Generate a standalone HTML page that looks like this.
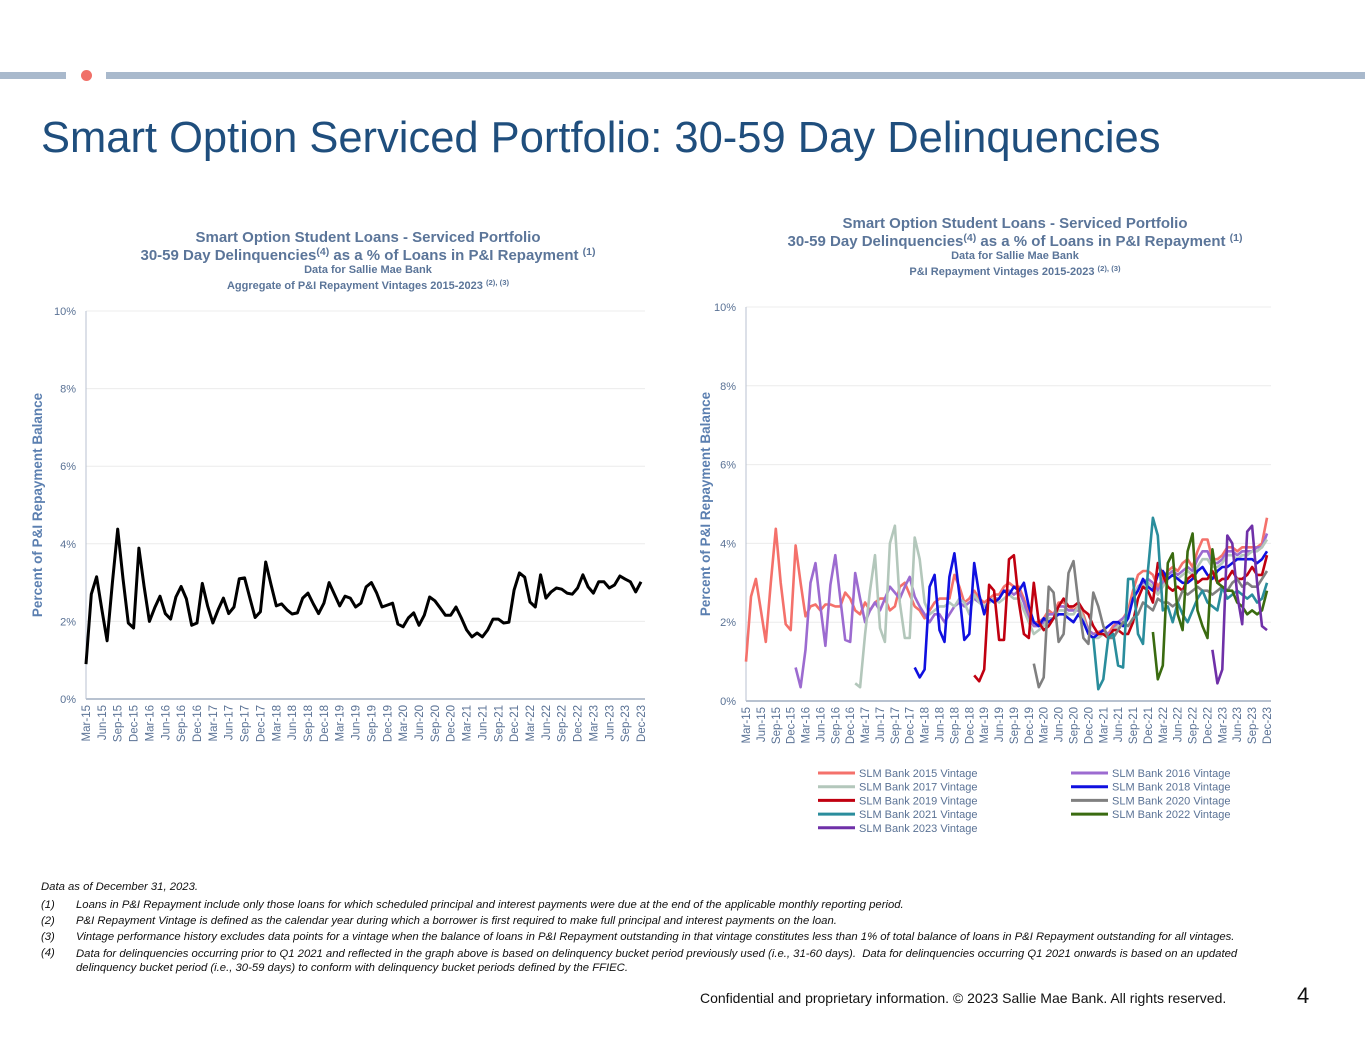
<!DOCTYPE html>
<html><head><meta charset="utf-8"><style>
html,body{margin:0;padding:0;width:1365px;height:1055px;background:#fff;overflow:hidden;font-family:"Liberation Sans",sans-serif;}
.fn{position:absolute;font-size:11.3px;font-style:italic;color:#111;white-space:nowrap;}
</style></head><body>
<div style="position:relative;width:1365px;height:1055px;">
<div style="position:absolute;left:0;top:72px;width:66px;height:7px;background:#a9b9cc;"></div>
<div style="position:absolute;left:81px;top:70px;width:11px;height:11px;border-radius:50%;background:#f07068;"></div>
<div style="position:absolute;left:106px;top:72px;width:1259px;height:7px;background:#a9b9cc;"></div>
<div style="position:absolute;left:41px;top:114px;font-size:43.5px;color:#1f4e7d;white-space:nowrap;">Smart Option Serviced Portfolio: 30-59 Day Delinquencies</div>

<svg id="chart" width="1365" height="1055" style="position:absolute;left:0;top:0;" font-family="Liberation Sans, sans-serif"></svg>

<div class="fn" style="left:41px;top:881px;">Data as of December 31, 2023.</div>
<div class="fn" style="left:41px;top:899px;">(1)</div>
<div class="fn" style="left:76px;top:899px;">Loans in P&amp;I Repayment include only those loans for which scheduled principal and interest payments were due at the end of the applicable monthly reporting period.</div>
<div class="fn" style="left:41px;top:915px;">(2)</div>
<div class="fn" style="left:76px;top:915px;">P&amp;I Repayment Vintage is defined as the calendar year during which a borrower is first required to make full principal and interest payments on the loan.</div>
<div class="fn" style="left:41px;top:931px;">(3)</div>
<div class="fn" style="left:76px;top:931px;">Vintage performance history excludes data points for a vintage when the balance of loans in P&amp;I Repayment outstanding in that vintage constitutes less than 1% of total balance of loans in P&amp;I Repayment outstanding for all vintages.</div>
<div class="fn" style="left:41px;top:947px;">(4)</div>
<div class="fn" style="left:76px;top:947px;line-height:14px;">Data for delinquencies occurring prior to Q1 2021 and reflected in the graph above is based on delinquency bucket period previously used (i.e., 31-60 days).&nbsp; Data for delinquencies occurring Q1 2021 onwards is based on an updated<br>delinquency bucket period (i.e., 30-59 days) to conform with delinquency bucket periods defined by the FFIEC.</div>
<div style="position:absolute;left:700px;top:990px;font-size:14px;color:#111;white-space:nowrap;">Confidential and proprietary information. © 2023 Sallie Mae Bank. All rights reserved.</div>
<div style="position:absolute;left:1297px;top:983px;font-size:22px;color:#111;">4</div>
</div>
<script>
const monthLabels = ["Mar-15","Jun-15","Sep-15","Dec-15","Mar-16","Jun-16","Sep-16","Dec-16","Mar-17","Jun-17","Sep-17","Dec-17","Mar-18","Jun-18","Sep-18","Dec-18","Mar-19","Jun-19","Sep-19","Dec-19","Mar-20","Jun-20","Sep-20","Dec-20","Mar-21","Jun-21","Sep-21","Dec-21","Mar-22","Jun-22","Sep-22","Dec-22","Mar-23","Jun-23","Sep-23","Dec-23"];
const yTicks = [0,2,4,6,8,10];
const aggregate = [0.9,2.7,3.15,2.3,1.5,3.0,4.38,3.1,1.96,1.83,
3.89,2.9,2.0,2.35,2.65,2.2,2.06,2.63,2.9,2.58,1.9,1.96,
2.98,2.4,1.96,2.3,2.6,2.2,2.37,3.1,3.12,2.6,2.1,2.25,
3.53,2.95,2.4,2.45,2.3,2.19,2.22,2.6,2.73,2.45,2.2,2.47,
3.0,2.7,2.4,2.65,2.6,2.37,2.47,2.89,3.0,2.73,2.37,2.42,
2.47,1.93,1.86,2.09,2.22,1.9,2.16,2.63,2.53,2.35,2.16,2.16,
2.37,2.09,1.78,1.6,1.7,1.6,1.78,2.06,2.06,1.96,1.98,2.81,
3.25,3.14,2.5,2.37,3.2,2.6,2.76,2.86,2.83,2.73,2.7,2.86,
3.2,2.89,2.73,3.02,3.02,2.86,2.94,3.17,3.09,3.02,2.76,3.02];
const vintageNames = ["SLM Bank 2015 Vintage","SLM Bank 2016 Vintage","SLM Bank 2017 Vintage","SLM Bank 2018 Vintage","SLM Bank 2019 Vintage","SLM Bank 2020 Vintage","SLM Bank 2021 Vintage","SLM Bank 2022 Vintage","SLM Bank 2023 Vintage"];
const vintageStart = [0,10,22,34,46,58,70,82,94];
const v2015 = [1.0,2.65,3.1,2.3,1.5,3.0,4.37,3.0,1.95,1.8,
3.95,3.0,2.15,2.4,2.45,2.3,2.45,2.45,2.4,2.4,2.75,2.6,
2.3,2.2,2.5,2.3,2.5,2.6,2.6,2.3,2.4,2.9,3.0,2.7,
2.4,2.3,2.1,2.3,2.5,2.6,2.6,2.6,3.2,2.9,2.5,2.6,
2.8,2.6,2.5,2.6,2.7,2.7,2.9,3.0,2.9,2.9,2.6,2.2,
2.0,2.0,2.1,2.3,2.2,2.5,2.5,2.4,2.3,2.4,2.2,1.8,
1.7,1.75,1.8,1.7,1.9,2.0,2.1,2.3,2.8,3.2,3.3,3.3,
3.2,2.9,3.1,3.3,3.4,3.3,3.5,3.6,3.4,3.8,4.1,4.1,
3.6,3.6,3.7,3.9,3.9,3.8,3.9,3.9,3.9,3.9,4.0,4.65];
const v2016 = [0.85,0.35,1.3,3.0,3.5,2.4,1.4,2.95,3.7,2.6,1.55,1.5,
3.25,2.6,2.0,2.3,2.5,2.3,2.6,2.9,2.75,2.6,2.9,3.15,
2.65,2.4,2.2,2.0,2.2,2.2,2.0,2.2,2.4,2.5,2.4,2.5,
2.6,2.5,2.4,2.5,2.6,2.6,2.8,2.8,2.7,2.8,2.5,2.1,
1.9,1.9,2.0,2.2,2.2,2.4,2.4,2.3,2.3,2.3,2.1,1.8,
1.7,1.7,1.8,1.7,1.8,2.0,2.1,2.2,2.6,2.9,3.0,3.1,
3.0,2.8,3.0,3.2,3.3,3.2,3.3,3.4,3.3,3.6,3.8,3.8,
3.5,3.5,3.6,3.8,3.8,3.7,3.8,3.8,3.8,3.9,3.9,4.25];
const v2017 = [0.45,0.35,1.7,2.8,3.7,1.85,1.5,4.0,4.45,2.5,1.6,1.6,
4.15,3.6,2.5,2.2,2.3,2.4,2.4,2.5,2.4,2.6,2.5,2.2,
2.7,2.5,2.4,2.5,2.6,2.5,2.6,2.7,2.6,2.6,2.3,2.0,
1.7,1.8,1.9,2.1,2.1,2.3,2.3,2.2,2.2,2.4,2.1,1.7,
1.6,1.6,1.7,1.6,1.8,1.9,2.0,2.2,2.6,2.9,2.9,3.0,
2.9,2.7,2.9,3.1,3.2,3.1,3.2,3.3,3.2,3.4,3.6,3.6,
3.4,3.4,3.5,3.7,3.7,3.6,3.7,3.7,3.8,3.8,3.9,4.1];
const v2018 = [0.85,0.6,0.8,2.9,3.2,1.8,1.5,3.15,3.75,2.7,1.55,1.7,
3.5,2.7,2.2,2.6,2.5,2.6,2.8,2.7,2.9,2.8,3.0,2.4,
2.0,1.9,2.1,2.0,2.1,2.2,2.2,2.1,2.0,2.2,2.0,1.7,
1.6,1.7,1.8,1.9,2.0,2.0,1.9,2.1,2.6,2.8,3.1,2.9,
2.8,3.2,3.3,3.1,3.2,3.1,3.0,3.0,3.1,3.3,3.4,3.2,
3.1,3.3,3.4,3.4,3.5,3.6,3.6,3.6,3.6,3.5,3.6,3.8];
const v2019 = [0.65,0.5,0.8,2.95,2.8,1.55,1.55,3.6,3.7,2.5,1.7,1.6,
3.0,2.0,1.8,1.9,2.1,2.4,2.6,2.4,2.4,2.5,2.3,2.2,
1.9,1.7,1.7,1.6,1.8,1.8,1.7,1.7,2.0,2.6,2.9,2.8,
2.5,3.5,3.2,2.9,2.8,2.9,2.8,3.1,3.2,3.0,3.1,3.1,
3.3,3.0,3.1,3.1,3.3,3.1,3.1,3.2,3.4,3.2,3.2,3.7];
const v2020 = [0.95,0.35,0.6,2.9,2.75,1.5,1.7,3.25,3.55,2.5,1.6,1.45,
2.75,2.4,1.9,1.6,1.6,1.8,2.0,1.9,2.1,2.2,2.5,2.4,
2.3,2.6,2.5,2.5,2.4,2.5,2.8,2.7,2.8,2.9,2.8,2.8,
2.7,2.8,2.9,2.8,3.0,3.1,2.9,3.0,2.9,2.9,3.1,3.3];
const v2021 = [1.6,0.3,0.55,1.6,1.7,0.9,0.85,3.1,3.1,1.7,1.45,3.3,
4.65,4.2,2.3,2.4,2.0,2.5,2.2,2.0,2.3,2.6,2.8,2.5,
2.4,2.3,2.9,2.6,2.7,2.8,2.7,2.6,2.7,2.5,2.6,3.0];
const v2022 = [1.75,0.55,0.9,3.5,3.75,2.2,1.8,3.8,4.25,2.3,1.9,1.6,
3.85,3.0,2.9,2.8,2.8,2.5,2.4,2.2,2.3,2.2,2.3,2.8];
const v2023 = [1.3,0.45,0.8,4.2,4.0,2.7,1.95,4.3,4.45,3.0,1.9,1.8];
const vintageSeries = [v2015,v2016,v2017,v2018,v2019,v2020,v2021,v2022,v2023];
const vintageColors = ["#f4716b","#9c6bd0","#b3c7bb","#1010e0","#c00010","#808080","#2a8d9c","#3a6b10","#6f30a8"];

const NS="http://www.w3.org/2000/svg";
const svg=document.getElementById('chart');
function mk(tag,attrs,parent){const e=document.createElementNS(NS,tag);for(const k in attrs)e.setAttribute(k,attrs[k]);(parent||svg).appendChild(e);return e;}
const nMonths=aggregate.length;

function drawPanel(p){
  const g=mk('g',{});
  
  
  const xS=i=>p.x0+(p.x1-p.x0)*i/(nMonths-1);
  const yS=v=>p.y0-(p.y0-p.y1)*v/10;
  yTicks.forEach(t=>{
    if(t>0){const l=mk('line',{x1:p.x0,x2:p.x1+4,y1:yS(t),y2:yS(t),stroke:'#ececec','stroke-width':1},g);
    
    }
    const tx=mk('text',{x:p.x0-10,y:yS(t)+4,'text-anchor':'end','font-size':11,fill:'#5a7295'},g);
    tx.textContent=t+'%';
    
    
  });
  const ax=mk('line',{x1:p.x0,x2:p.x0,y1:p.y1,y2:p.y0,stroke:'#b8c2d0','stroke-width':1},g);
  
  
  const bx=mk('line',{x1:p.x0,x2:p.x1+4,y1:p.y0,y2:p.y0,stroke:'#b8c2d0','stroke-width':2},g);
  
  
  monthLabels.forEach((m,k)=>{
    const x=xS(k*3)+4;
    const t=mk('text',{x:0,y:0,transform:`translate(${x},${p.y0+6}) rotate(-90)`,'text-anchor':'end','font-size':11.5,fill:'#5a7295'},g);
    t.textContent=m;
    
    
  });
  const yl=mk('text',{x:0,y:0,transform:`translate(${p.ylx},${(p.y0+p.y1)/2}) rotate(-90)`,'text-anchor':'middle','font-size':13.5,'font-weight':'bold',fill:'#5b7fb0'},g);
  yl.textContent='Percent of P&I Repayment  Balance';
  
  
  return {g,xS,yS};
}
function title(lines,cx){
  lines.forEach(L=>{
    const t=mk('text',{x:cx,y:L.y,'text-anchor':'middle','font-size':L.s,'font-weight':'bold',fill:'#5b7599'});
    
    
    const a=mk('tspan',{},t);a.textContent=L.a;
    if(L.sup){const s=mk('tspan',{'font-size':L.s*0.7,dy:-L.s*0.35},t);s.textContent=L.sup;}
    if(L.b){const b=mk('tspan',{dy:L.sup?L.s*0.35:0},t);b.textContent=L.b;}
    if(L.sup2){const s=mk('tspan',{'font-size':L.s*0.7,dy:-L.s*0.35},t);s.textContent=L.sup2;}
  });
}
title([
 {y:242,s:15,a:'Smart Option Student Loans - Serviced Portfolio',n:'left-chart-title'},
 {y:260,s:15,a:'30-59 Day Delinquencies',sup:'(4)',b:' as a % of Loans in P&I Repayment ',sup2:'(1)',n:'left-chart-subtitle'},
 {y:273,s:11,a:'Data for Sallie Mae Bank',n:'left-chart-data-note'},
 {y:289,s:11,a:'Aggregate of P&I Repayment Vintages 2015-2023 ',sup:'(2), (3)',n:'left-chart-vintage-note'}
],368);
title([
 {y:228,s:15,a:'Smart Option Student Loans - Serviced Portfolio',n:'right-chart-title'},
 {y:246,s:15,a:'30-59  Day Delinquencies',sup:'(4)',b:' as a % of Loans in P&I Repayment ',sup2:'(1)',n:'right-chart-subtitle'},
 {y:259,s:11,a:'Data for Sallie Mae Bank',n:'right-chart-data-note'},
 {y:275,s:11,a:'P&I Repayment Vintages 2015-2023 ',sup:'(2), (3)',n:'right-chart-vintage-note'}
],1015);

const L=drawPanel({name:'left-chart',x0:86,x1:641,y0:699,y1:311,ylx:42});
let d=aggregate.map((v,i)=>(i?'L':'M')+L.xS(i).toFixed(1)+','+L.yS(v).toFixed(1)).join(' ');
const lp=mk('path',{d,fill:'none',stroke:'#000','stroke-width':3,'stroke-linejoin':'round'},L.g);



const R=drawPanel({name:'right-chart',x0:746,x1:1267,y0:701,y1:307,ylx:710});
vintageSeries.forEach((s,k)=>{
  const dd=s.map((v,j)=>(j?'L':'M')+R.xS(vintageStart[k]+j).toFixed(1)+','+R.yS(v).toFixed(1)).join(' ');
  const p=mk('path',{d:dd,fill:'none',stroke:vintageColors[k],'stroke-width':2.6,'stroke-linejoin':'round'},R.g);
  
  
});
vintageNames.forEach((n,k)=>{
  const col=k%2, row=Math.floor(k/2);
  const x=col?1071:818, y=773+row*13.7;
  const lg=mk('g',{},R.g);
  
  
  mk('line',{x1:x,x2:x+37,y1:y,y2:y,stroke:vintageColors[k],'stroke-width':3},lg);
  const t=mk('text',{x:x+41,y:y+4,'font-size':11,fill:'#5a7295'},lg);
  t.textContent=n;
});
</script>
</body></html>
